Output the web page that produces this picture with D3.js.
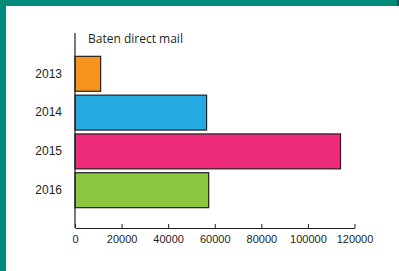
<!DOCTYPE html>
<html>
<head>
<meta charset="utf-8">
<script src="https://cdn.jsdelivr.net/npm/d3@7"></script>
<style>
  body { margin: 0; background: #fff; }
  svg { display: block; font-family: "Open Sans", sans-serif; }
</style>
</head>
<body>
<div id="chart"></div>
<script>
// データ
const years = ['2013', '2014', '2015', '2016'];
const mailValues = [11000, 56500, 114000, 57400];
const barColors = ['#f7941d', '#27aae1', '#ee2a7b', '#8dc63f'];
const xTicks = [0, 20000, 40000, 60000, 80000, 100000, 120000];
const chartTitle = 'Baten direct mail';

const width = 399, height = 271;

const svg = d3.select('#chart')
              .append('svg')
              .attr('width', width)
              .attr('height', height)

// 枠 (上と左の緑の帯)
svg.append('rect').attr('x', 0).attr('y', 0).attr('width', width).attr('height', height).attr('fill', '#fff')
svg.append('rect').attr('x', 0).attr('y', 0).attr('width', width).attr('height', 6).attr('fill', '#028a7b')
svg.append('rect').attr('x', 0).attr('y', 0).attr('width', 6).attr('height', height).attr('fill', '#028a7b')
svg.append('rect').attr('x', 397).attr('y', 0).attr('width', 2).attr('height', 6).attr('fill', '#3a4a48')

const x = d3.scaleLinear()
            .domain([0, 120000])
            .range([75, 354.5])

const y = d3.scaleBand()
            .domain(years)
            .range([35, 229])
            .paddingInner(0.1)
            .paddingOuter(0.55)

// 棒
svg.selectAll('rect.bar')
  .data(mailValues)
  .enter()
  .append('rect')
  .attr('class', 'bar')
  .attr('x', x(0))
  .attr('y', (d, i) => y(years[i]))
  .attr('width', d => x(d) - x(0))
  .attr('height', y.bandwidth())
  .attr('fill', (d, i) => barColors[i])
  .attr('stroke', '#231f20')
  .attr('stroke-width', 1.2)

// X軸
const xAxis = svg.append('g')
  .attr('transform', 'translate(0,228)')
  .call(d3.axisBottom(x).tickValues(xTicks).tickFormat(d3.format('d')).tickSizeInner(-4).tickSizeOuter(0).tickPadding(5))
xAxis.select('.domain').attr('stroke', '#231f20').attr('stroke-width', 1.2)
xAxis.selectAll('.tick line').attr('stroke', '#231f20')
xAxis.selectAll('.tick text').attr('font-size', 11).attr('fill', '#231f20').attr('dy', '0.9em')

// Y軸
const yAxis = svg.append('g')
  .attr('transform', 'translate(75,0)')
  .call(d3.axisLeft(y).tickSize(0).tickPadding(13))
yAxis.select('.domain').remove()
yAxis.selectAll('.tick text').attr('font-size', 12).attr('fill', '#231f20')
svg.append('line')
  .attr('x1', 75).attr('x2', 75)
  .attr('y1', 33).attr('y2', 228)
  .attr('stroke', '#231f20')
  .attr('stroke-width', 1.2)

// タイトル
svg.append('text')
  .attr('x', 88)
  .attr('y', 43)
  .attr('font-size', 12)
  .attr('fill', '#231f20')
  .text(chartTitle)
</script>
</body>
</html>
